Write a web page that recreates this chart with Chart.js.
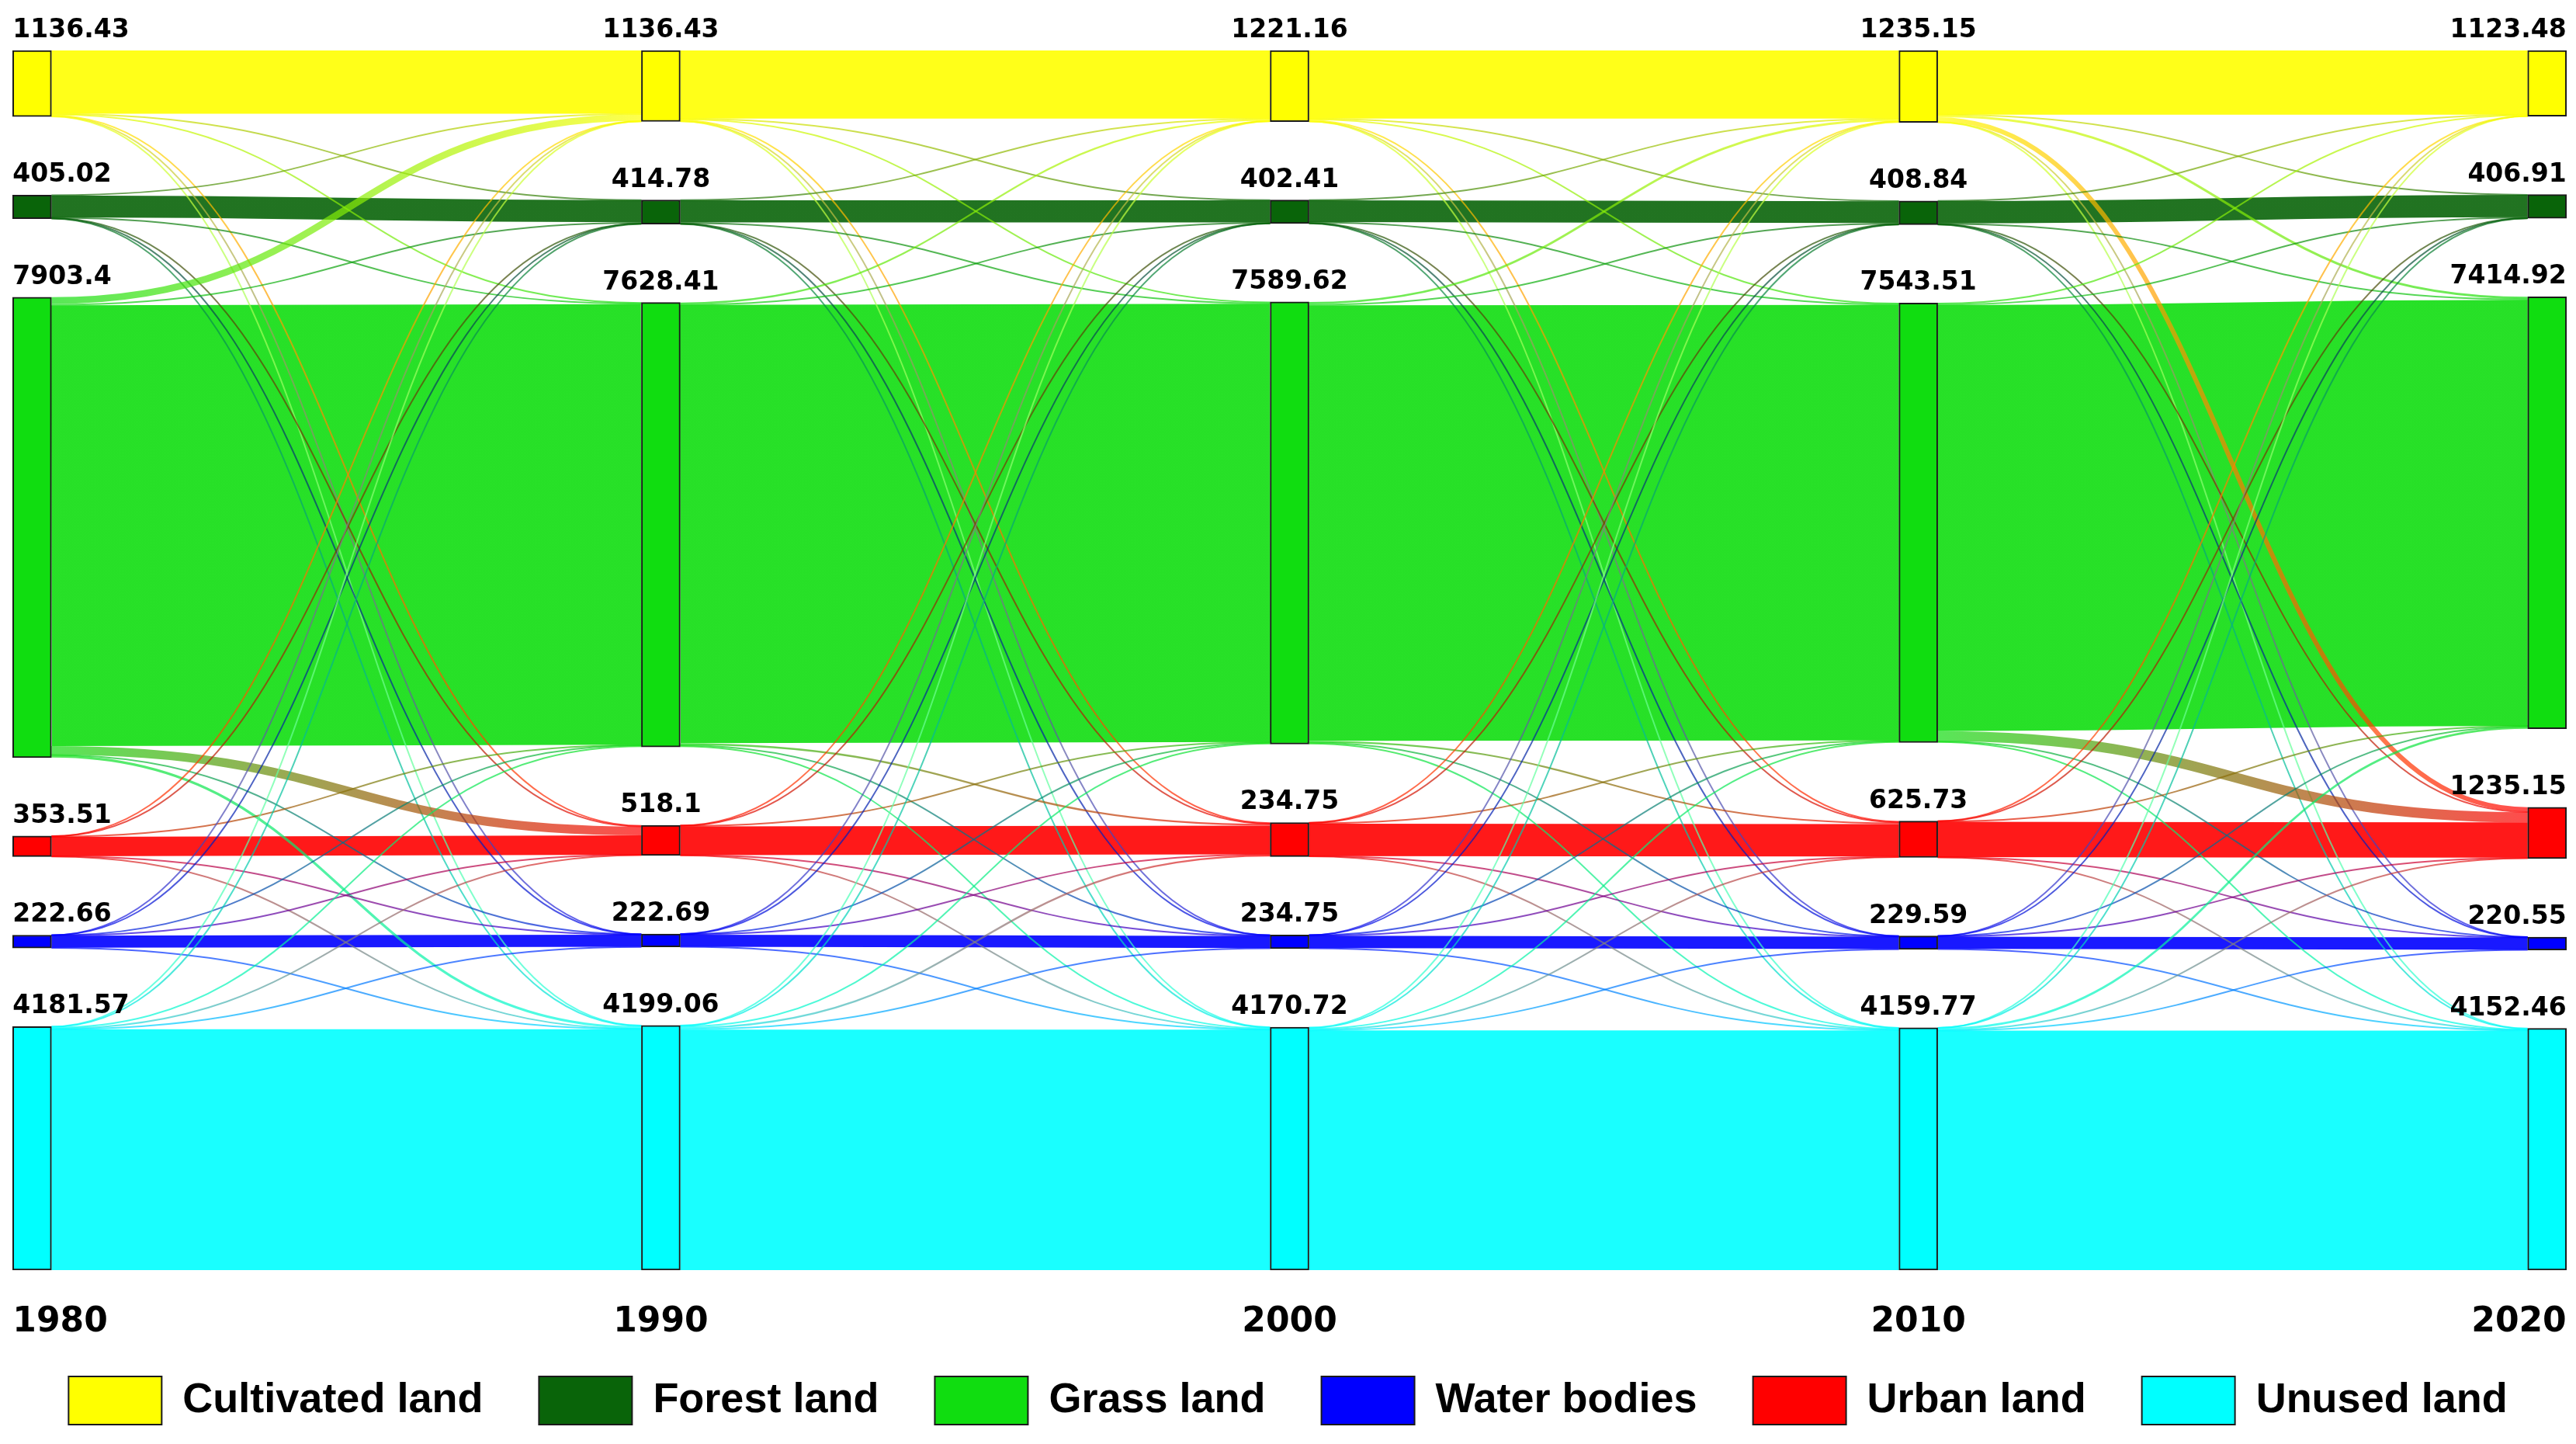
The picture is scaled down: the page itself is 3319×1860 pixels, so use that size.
<!DOCTYPE html>
<html>
<head>
<meta charset="utf-8">
<script src="https://cdn.jsdelivr.net/npm/chart.js@4.4.0/dist/chart.umd.min.js"></script>
<style>
  html, body { margin: 0; padding: 0; background: #fff; }
  #wrap { width: 3319px; height: 1860px; }
</style>
</head>
<body>
<div id="wrap"><canvas id="landChart" width="3319" height="1860"></canvas></div>
<script>
const years = [1980, 1990, 2000, 2010, 2020];
const classes = ['Cultivated land', 'Forest land', 'Grass land', 'Urban land', 'Water bodies', 'Unused land'];
const classColors = ['#ffff00', '#096409', '#10dd10', '#ff0000', '#0000ff', '#00ffff'];
const legendOrder = [0, 1, 2, 4, 3, 5];

// areas as printed above the nodes
const area1980 = [1136.43, 405.02, 7903.4, 353.51, 222.66, 4181.57];
const area1990 = [1136.43, 414.78, 7628.41, 518.1, 222.69, 4199.06];
const area2000 = [1221.16, 402.41, 7589.62, 234.75, 234.75, 4170.72];
const area2010 = [1235.15, 408.84, 7543.51, 625.73, 229.59, 4159.77];
const area2020 = [1123.48, 406.91, 7414.92, 1235.15, 220.55, 4152.46];

// transfers, row = from class, column = to class (order of `classes`)
const flows1980to1990 = [
    [1086.43, 6, 14, 18, 4, 8],
    [5, 377.02, 12, 3, 2, 6],
    [118, 22, 7565.4, 150, 4, 44],
    [4, 2, 8, 332.51, 3, 4],
    [2, 1, 4, 3, 207.66, 5],
    [4, 6, 25, 11, 2, 4133.57]
];
const flows1990to2000 = [
    [1170.55, 5, 14, 20, 4, 6],
    [6, 380.78, 18, 3, 2, 5],
    [30, 12, 7521.41, 32, 8, 25],
    [5, 2, 10, 493.1, 3, 5],
    [2, 1, 5, 4, 206.69, 4],
    [7, 2, 21, 32, 11, 4126.06]
];
const flows2000to2010 = [
    [1169.16, 6, 16, 22, 3, 5],
    [5, 373.41, 14, 3, 2, 5],
    [38, 20, 7476.62, 28, 5, 22],
    [6, 3, 10, 555.93, 4, 5],
    [3, 1, 5, 4, 211.75, 10],
    [14, 5, 22, 13, 4, 4112.72]
];
const flows2010to2020 = [
    [1101.15, 5, 40, 80, 3, 6],
    [4, 381.84, 12, 6, 1, 4],
    [18, 16, 7312.51, 175, 2, 20],
    [3, 2, 9, 605.73, 2, 4],
    [1, 1, 4, 7, 210.59, 6],
    [1, 1, 37, 9, 2, 4109.77]
];

const areaByYear = [area1980, area1990, area2000, area2010, area2020];
const periods = [flows1980to1990, flows1990to2000, flows2000to2010, flows2010to2020];

const SPAN = 20935;   // y units one column covers (nodes + gaps)
const BAR_W = 50;

const sum = arr => arr.reduce((a, b) => a + b, 0);

// node size = larger of what flows in and what flows out
function nodeSizes(c) {
    return classes.map((_, i) => {
        const out = c < periods.length ? sum(periods[c][i]) : 0;
        const inn = c > 0 ? sum(periods[c - 1].map(row => row[i])) : 0;
        return Math.max(out, inn);
    });
}

// stack nodes top to bottom, spreading the spare room as equal gaps
const layout = years.map((_, c) => {
    const sizes = nodeSizes(c);
    const gap = (SPAN - sum(sizes)) / (classes.length - 1);
    let pos = 0;
    return sizes.map(s => {
        const n = { y0: pos, y1: pos + s };
        pos += s + gap;
        return n;
    });
});

function hexAlpha(hex, a) {
    const n = parseInt(hex.slice(1), 16);
    return `rgba(${(n >> 16) & 255},${(n >> 8) & 255},${n & 255},${a})`;
}

// text anchored to a column: first column left-aligned, last right-aligned
function columnAnchor(ctx, x, c) {
    const cx = x.getPixelForValue(years[c]);
    if (c === 0) { ctx.textAlign = 'left'; return cx - BAR_W / 2; }
    if (c === years.length - 1) { ctx.textAlign = 'right'; return cx + BAR_W / 2; }
    ctx.textAlign = 'center';
    return cx;
}

const sankeyLinks = {
    id: 'sankeyLinks',
    beforeDatasetsDraw(chart) {
        const { ctx, scales: { x, y } } = chart;
        const half = BAR_W / 2;
        const selfLinks = [];
        const crossLinks = [];

        periods.forEach((m, p) => {
            const outOff = layout[p].map(n => n.y0);
            const inOff = layout[p + 1].map(n => n.y0);
            m.forEach((row, i) => {
                row.forEach((v, j) => {
                    const link = {
                        x0: x.getPixelForValue(years[p]) + half,
                        x1: x.getPixelForValue(years[p + 1]) - half,
                        ys: y.getPixelForValue(outOff[i] + v / 2),
                        yt: y.getPixelForValue(inOff[j] + v / 2),
                        w: Math.abs(y.getPixelForValue(v) - y.getPixelForValue(0)),
                        from: i, to: j
                    };
                    outOff[i] += v;
                    inOff[j] += v;
                    (i === j ? selfLinks : crossLinks).push(link);
                });
            });
        });

        ctx.save();
        ctx.lineCap = 'butt';
        const drawLink = (l, alpha) => {
            const xm = (l.x0 + l.x1) / 2;
            const grad = ctx.createLinearGradient(l.x0, 0, l.x1, 0);
            grad.addColorStop(0, hexAlpha(classColors[l.from], alpha));
            grad.addColorStop(1, hexAlpha(classColors[l.to], alpha));
            ctx.strokeStyle = grad;
            ctx.lineWidth = Math.max(l.w, 2);
            ctx.beginPath();
            ctx.moveTo(l.x0, l.ys);
            ctx.bezierCurveTo(xm, l.ys, xm, l.yt, l.x1, l.yt);
            ctx.stroke();
        };
        selfLinks.forEach(l => drawLink(l, 0.9));
        crossLinks.forEach(l => drawLink(l, 0.7));
        ctx.restore();
    },
    afterDatasetsDraw(chart) {
        const { ctx, chartArea, scales: { x, y } } = chart;
        ctx.save();
        ctx.fillStyle = '#000';

        // area values above every node
        ctx.font = 'bold 33px "DejaVu Sans"';
        ctx.textBaseline = 'alphabetic';
        years.forEach((yr, c) => {
            const tx = columnAnchor(ctx, x, c);
            areaByYear[c].forEach((v, i) => {
                const top = y.getPixelForValue(layout[c][i].y0);
                ctx.fillText(String(v), tx, top - 17);
            });
        });

        // year under each column
        ctx.font = 'bold 44px "DejaVu Sans"';
        ctx.textBaseline = 'middle';
        years.forEach((yr, c) => {
            const tx = columnAnchor(ctx, x, c);
            ctx.fillText(String(yr), tx, chartArea.bottom + 68);
        });
        ctx.restore();
    }
};

const datasets = classes.map((name, i) => ({
    label: name,
    data: years.map((yr, c) => ({ x: yr, y: [layout[c][i].y0, layout[c][i].y1] })),
    backgroundColor: classColors[i],
    borderColor: '#1a1a1a',
    borderWidth: 2,
    borderSkipped: false,
    barThickness: BAR_W,
    grouped: false,
    clip: false
}));

new Chart(document.getElementById('landChart'), {
    type: 'bar',
    data: { datasets },
    plugins: [sankeyLinks],
    options: {
        responsive: false,
        animation: false,
        events: [],
        layout: { padding: { top: 65, left: 0, right: 0, bottom: 15 } },
        scales: {
            x: {
                type: 'linear',
                offset: false,
                min: 1979.49,
                max: 2020.46,
                afterFit: axis => { axis.height = 65; },
                grid: { display: false, drawTicks: false },
                border: { display: false },
                ticks: { display: false }
            },
            y: {
                type: 'linear',
                min: 0,
                max: SPAN,
                reverse: true,
                display: false
            }
        },
        plugins: {
            tooltip: { enabled: false },
            legend: {
                position: 'bottom',
                labels: {
                    boxWidth: 120,
                    boxHeight: 62,
                    padding: 72,
                    color: '#000',
                    font: { family: 'Liberation Sans', weight: 'bold', size: 54 },
                    sort: (a, b) => legendOrder.indexOf(a.datasetIndex) - legendOrder.indexOf(b.datasetIndex)
                }
            }
        }
    }
});
</script>
</body>
</html>
